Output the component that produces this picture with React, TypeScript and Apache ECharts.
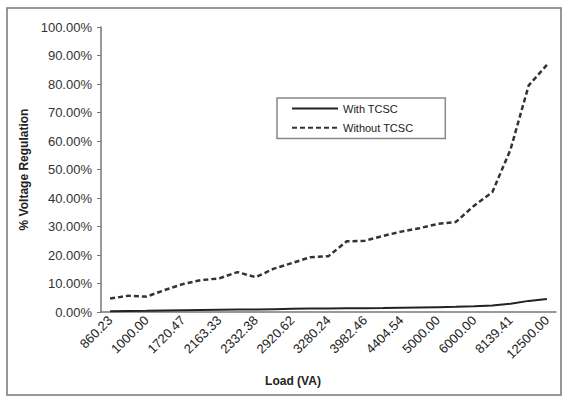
import React, { useEffect, useRef } from "react";
import * as echarts from "echarts";

const loads = [
  "860.23", "900.00", "1000.00", "1500.00", "1720.47", "1900.00", "2163.33", "2250.00",
  "2332.38", "2600.00", "2920.62", "3100.00", "3280.24", "3600.00", "3982.46", "4200.00",
  "4404.54", "4700.00", "5000.00", "5500.00", "6000.00", "7000.00", "8139.41", "10000.00",
  "12500.00",
];
const withTCSC = [
  0.3, 0.35, 0.4, 0.5, 0.6, 0.7, 0.8, 0.9, 0.9, 1.0, 1.1, 1.2, 1.25, 1.3, 1.35, 1.4,
  1.5, 1.6, 1.7, 1.8, 2.0, 2.3, 2.9, 3.9, 4.6,
];
const withoutTCSC = [
  4.7, 5.7, 5.4, 7.7, 9.8, 11.2, 11.8, 14.0, 12.2, 15.2, 17.2, 19.2, 19.6, 24.8, 25.0, 26.7,
  28.2, 29.4, 30.9, 31.6, 37.3, 42.0, 57.0, 79.5, 86.7,
];

const FONT = "'Liberation Sans', Arial, sans-serif";

export default function App() {
  const ref = useRef<HTMLDivElement>(null);
  useEffect(() => {
    if (!ref.current) return;
    const chart = echarts.init(ref.current, null, { renderer: "svg" });
    chart.setOption({
      animation: false,
      backgroundColor: "#ffffff",
      textStyle: { fontFamily: FONT },
      grid: { left: 101, right: 9, top: 27, bottom: 85 },
      legend: {
        left: 277,
        top: 98,
        orient: "vertical",
        itemWidth: 46,
        itemHeight: 14,
        itemGap: 8,
        padding: [5, 32, 5, 14],
        borderColor: "#888",
        borderWidth: 1.5,
        itemStyle: { opacity: 0 },
        textStyle: { fontFamily: FONT, fontSize: 11, color: "#222" },
        data: ["With TCSC", "Without TCSC"],
      },
      xAxis: {
        type: "category",
        data: loads,
        boundaryGap: true,
        axisLine: { lineStyle: { color: "#777", width: 1.5 } },
        axisTick: { interval: 0, length: 4, lineStyle: { color: "#777" } },
        axisLabel: {
          interval: 1,
          rotate: 45,
          fontSize: 13,
          color: "#222",
          fontFamily: FONT,
          margin: 6,
        },
      },
      yAxis: {
        type: "value",
        min: 0,
        max: 100,
        interval: 10,
        splitLine: { show: false },
        axisLine: { show: true, lineStyle: { color: "#777", width: 1.5 } },
        axisTick: { show: true, length: 4, lineStyle: { color: "#777" } },
        axisLabel: {
          fontSize: 13,
          color: "#333",
          fontFamily: FONT,
          margin: 9,
          formatter: (v: number) => v.toFixed(2) + "%",
        },
        name: "% Voltage Regulation",
        nameLocation: "middle",
        nameGap: 70,
        nameTextStyle: { fontSize: 12, fontWeight: "bold", color: "#222", fontFamily: FONT },
      },
      graphic: [
        {
          type: "rect",
          shape: { x: 7, y: 8, width: 554, height: 387 },
          style: { fill: "none", stroke: "#777", lineWidth: 1.5 },
          silent: true,
        },
        {
          type: "text",
          x: 293,
          y: 381,
          style: {
            text: "Load (VA)",
            fontSize: 12,
            fontWeight: "bold",
            fontFamily: FONT,
            fill: "#222",
            align: "center",
            verticalAlign: "middle",
          },
        },
      ],
      series: [
        {
          name: "With TCSC",
          type: "line",
          data: withTCSC,
          symbol: "none",
          lineStyle: { color: "#222", width: 2, type: "solid" },
          itemStyle: { color: "#222" },
        },
        {
          name: "Without TCSC",
          type: "line",
          data: withoutTCSC,
          symbol: "none",
          lineStyle: { color: "#333", width: 2.5, type: [5, 3] },
          itemStyle: { color: "#333" },
        },
      ],
    });
    return () => chart.dispose();
  }, []);
  return (
    <div
      ref={ref}
      style={{ position: "absolute", left: 0, top: 0, width: 565, height: 397 }}
    />
  );
}
